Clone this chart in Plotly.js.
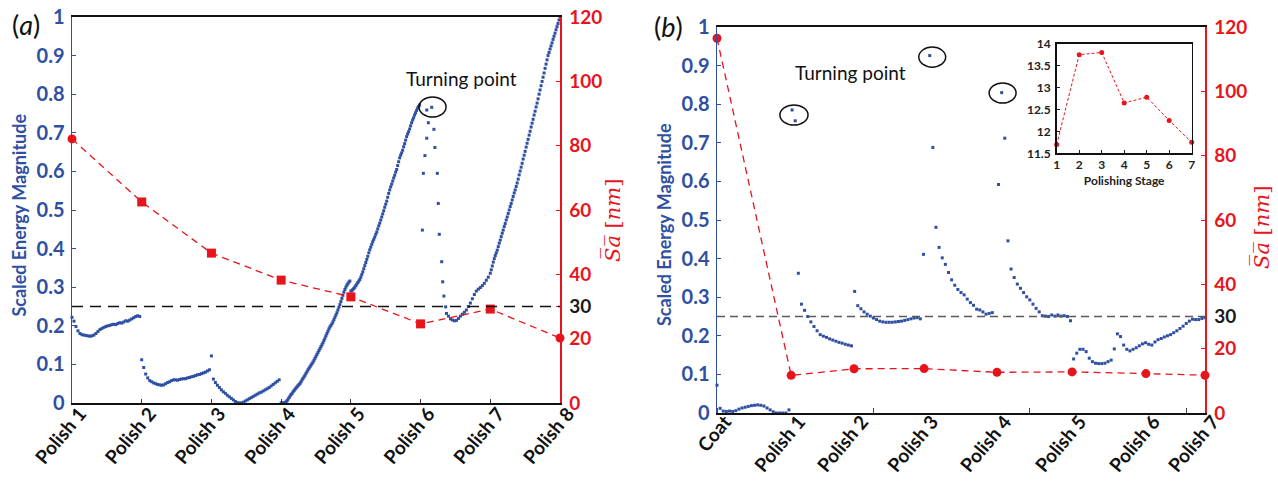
<!DOCTYPE html>
<html>
<head>
<meta charset="utf-8">
<script src="https://cdn.plot.ly/plotly-3.0.1.min.js"></script>
<style>
  html, body { margin: 0; padding: 0; background: #fff; }
  #chart { width: 1278px; height: 481px; }
</style>
</head>
<body>
<div id="chart"></div>
<script>
// ---------- Panel (a): eight polishing stages ----------
const aStageLabels = ['Polish 1', 'Polish 2', 'Polish 3', 'Polish 4', 'Polish 5', 'Polish 6', 'Polish 7', 'Polish 8'];
const aStagePos = [0, 35, 70, 105, 140, 175, 210, 245];          // sample index where each stage begins
const aSa = [82.1, 62.5, 46.6, 38.2, 33.0, 24.6, 29.2, 20.2];     // mean Sa [nm] per stage

// scaled energy, stages 1-3 (one sample per index)
const aPolish1 = [0.222, 0.212, 0.198, 0.187, 0.18, 0.177, 0.176, 0.175, 0.174, 0.173,
  0.174, 0.176, 0.18, 0.185, 0.19, 0.193, 0.196, 0.198, 0.2, 0.201,
  0.203, 0.204, 0.203, 0.206, 0.208, 0.207, 0.21, 0.213, 0.212, 0.215,
  0.218, 0.221, 0.224, 0.226, 0.224];
const aPolish2 = [0.112, 0.092, 0.075, 0.065, 0.058, 0.055, 0.052, 0.05, 0.048, 0.047,
  0.046, 0.047, 0.05, 0.053, 0.055, 0.058, 0.06, 0.06, 0.059, 0.061,
  0.062, 0.063, 0.063, 0.065, 0.066, 0.068, 0.069, 0.071, 0.073, 0.074,
  0.076, 0.078, 0.08, 0.083, 0.086];
const aPolish3 = [0.122, 0.062, 0.053, 0.046, 0.04, 0.034, 0.029, 0.025, 0.02, 0.016,
  0.012, 0.008, 0.004, 0.001, 0, 0, 0.002, 0.005, 0.008, 0.011,
  0.014, 0.017, 0.02, 0.023, 0.026, 0.028, 0.031, 0.034, 0.037, 0.04,
  0.044, 0.048, 0.052, 0.056, 0.06];
// stages 4, 5 and 7 are sampled twice as densely
const aPolish4 = [0, 0, 0, 0, 0.001, 0.003, 0.006, 0.01, 0.014, 0.018,
  0.022, 0.025, 0.029, 0.032, 0.036, 0.039, 0.042, 0.045, 0.048, 0.051,
  0.055, 0.06, 0.064, 0.068, 0.072, 0.077, 0.081, 0.086, 0.09, 0.094,
  0.098, 0.102, 0.106, 0.111, 0.116, 0.121, 0.126, 0.131, 0.136, 0.141,
  0.146, 0.151, 0.156, 0.162, 0.168, 0.174, 0.18, 0.186, 0.192, 0.197,
  0.201, 0.205, 0.21, 0.216, 0.222, 0.228, 0.234, 0.241, 0.248, 0.255,
  0.263, 0.271, 0.279, 0.287, 0.294, 0.3, 0.305, 0.309, 0.313, 0.316];
const aPolish5 = [0.29, 0.291, 0.294, 0.297, 0.3, 0.304, 0.308, 0.312, 0.316, 0.32,
  0.326, 0.333, 0.34, 0.348, 0.356, 0.364, 0.372, 0.38, 0.389, 0.397,
  0.404, 0.411, 0.418, 0.424, 0.43, 0.437, 0.443, 0.451, 0.459, 0.466,
  0.474, 0.482, 0.49, 0.498, 0.507, 0.515, 0.523, 0.533, 0.543, 0.552,
  0.56, 0.567, 0.575, 0.583, 0.59, 0.598, 0.605, 0.615, 0.625, 0.635,
  0.642, 0.648, 0.655, 0.664, 0.672, 0.681, 0.69, 0.697, 0.703, 0.71,
  0.718, 0.726, 0.733, 0.739, 0.746, 0.752, 0.758, 0.764, 0.768, 0.772];
// stage 6: the collapse after the turning point, then the recovery
const aPolish6X = [178.1, 180.6, 178.9, 181.7, 178.1, 182.2, 177.2, 176.4, 183.4, 183.9,
  175.9, 184.4, 185.6, 186.1, 186.7, 187.6,
  188, 189, 190, 191, 192, 193, 194, 195, 196, 197, 198, 199, 200, 201,
  202, 203, 204, 205, 206, 207, 208, 209];
const aPolish6Y = [0.759, 0.766, 0.726, 0.709, 0.686, 0.662, 0.641, 0.595, 0.595, 0.517,
  0.448, 0.437, 0.366, 0.314, 0.277, 0.249,
  0.232, 0.225, 0.218, 0.215, 0.213, 0.214, 0.219, 0.225, 0.23, 0.235, 0.241, 0.25, 0.259, 0.27,
  0.281, 0.29, 0.295, 0.299, 0.304, 0.31, 0.318, 0.326];
const aPolish7 = [0.336, 0.345, 0.355, 0.365, 0.374, 0.382, 0.389, 0.396, 0.405, 0.414,
  0.422, 0.431, 0.44, 0.448, 0.457, 0.465, 0.474, 0.482, 0.491, 0.5,
  0.509, 0.517, 0.526, 0.535, 0.544, 0.552, 0.561, 0.57, 0.58, 0.591,
  0.601, 0.611, 0.621, 0.632, 0.642, 0.652, 0.663, 0.673, 0.683, 0.694,
  0.704, 0.715, 0.725, 0.735, 0.746, 0.756, 0.767, 0.777, 0.788, 0.8,
  0.811, 0.822, 0.833, 0.844, 0.855, 0.867, 0.878, 0.889, 0.9, 0.908,
  0.917, 0.925, 0.933, 0.942, 0.95, 0.958, 0.967, 0.975, 0.983, 0.992,
  1.0];

// ---------- Panel (b): coating plus seven polishing stages ----------
const bStageLabels = ['Coat', 'Polish 1', 'Polish 2', 'Polish 3', 'Polish 4', 'Polish 5', 'Polish 6', 'Polish 7'];
const bStagePos = [0, 23.7, 43.8, 66.2, 89.5, 113.5, 137.1, 156];
const bSa = [116.5, 11.7, 13.75, 13.8, 12.65, 12.78, 12.25, 11.75];
const insetStage = [1, 2, 3, 4, 5, 6, 7];

const bCoat = [0.072, 0.012, 0.005, 0.004, 0.005, 0.004, 0.006, 0.01, 0.013, 0.015,
  0.017, 0.019, 0.02, 0.021, 0.02, 0.018, 0.013, 0.008, 0.003, 0, 0, 0, 0, 0.008];
const bPolish1 = [0.785, 0.757, 0.362, 0.282, 0.266, 0.25, 0.236, 0.224, 0.213, 0.203,
  0.199, 0.196, 0.192, 0.189, 0.186, 0.183, 0.181, 0.178, 0.176, 0.174];
const bPolish2 = [0.315, 0.278, 0.27, 0.262, 0.256, 0.251, 0.246, 0.242, 0.238, 0.236,
  0.235, 0.235, 0.235, 0.236, 0.237, 0.238, 0.24, 0.242, 0.244, 0.246, 0.247, 0.244];
const bPolish3 = [0.411, null, 0.926, 0.688, 0.481, 0.429, 0.402, 0.385, 0.364, 0.345,
  0.331, 0.32, 0.312, 0.306, 0.295, 0.286, 0.279, 0.269, 0.267, 0.262,
  0.256, 0.258, 0.26, null];
const bPolish4 = [0.592, 0.83, 0.712, 0.446, 0.373, 0.351, 0.334, 0.323, 0.312, 0.301,
  0.293, 0.282, 0.271, 0.262, 0.252, 0.251, 0.25, 0.254, 0.251, 0.254,
  0.251, 0.252, 0.25, 0.239];
const bPolish5 = [0.14, 0.155, 0.165, 0.165, 0.159, 0.142, 0.133, 0.129, 0.128, 0.128,
  0.129, 0.133, 0.137, 0.166, 0.205, 0.198, 0.176, 0.165, 0.161, 0.165,
  0.169, 0.174, 0.179, 0.182];
const bPolish6 = [0.178, 0.176, 0.184, 0.19, 0.193, 0.197, 0.2, 0.203, 0.208, 0.213,
  0.219, 0.225, 0.232, 0.238, 0.243, 0.242, 0.242, 0.245, 0.247];

const energyThreshold = 0.25;   // dashed reference level (= 30 nm on the Sa axis)

// ---------- styling ----------
const W = 1278, H = 481;
const BLUE = '#2f50a2', RED = '#e8141c', INK = '#111111';
const FONT = 'Lato, "Open Sans", sans-serif';
const px = v => v / W;
const py = v => 1 - v / H;

const dotStyle = { symbol: 'square', size: 3, color: BLUE };

function energy(y, x0, dx, xa, ya) {
  return { type: 'scatter', mode: 'markers', y: y, x0: x0, dx: dx, xaxis: xa, yaxis: ya,
           marker: dotStyle, cliponaxis: false, hoverinfo: 'skip' };
}

const traces = [
  energy(aPolish1.concat(aPolish2, aPolish3), aStagePos[0], 1, 'x', 'y'),
  energy(aPolish4, aStagePos[3], 0.5, 'x', 'y'),
  energy(aPolish5, aStagePos[4], 0.5, 'x', 'y'),
  { type: 'scatter', mode: 'markers', x: aPolish6X, y: aPolish6Y, xaxis: 'x', yaxis: 'y',
    marker: dotStyle, cliponaxis: false },
  energy(aPolish7, aStagePos[6], 0.5, 'x', 'y'),
  { type: 'scatter', mode: 'lines+markers', x: aStagePos, y: aSa, xaxis: 'x', yaxis: 'y2',
    line: { color: RED, width: 1.3, dash: '7px,5px' },
    marker: { color: RED, size: 9,
              symbol: ['circle', 'square', 'square', 'square', 'square', 'square', 'square', 'circle'] },
    cliponaxis: false },

  energy(bCoat.concat(bPolish1, bPolish2, bPolish3, bPolish4, bPolish5, bPolish6), 0, 1, 'x2', 'y3'),
  { type: 'scatter', mode: 'lines+markers', x: bStagePos, y: bSa, xaxis: 'x2', yaxis: 'y4',
    line: { color: RED, width: 1.3, dash: '7px,5px' },
    marker: { color: RED, size: 9, symbol: 'circle' }, cliponaxis: false },

  { type: 'scatter', mode: 'lines+markers', x: insetStage, y: bSa.slice(1), xaxis: 'x3', yaxis: 'y5',
    line: { color: RED, width: 1, dash: '3px,2px' },
    marker: { color: RED, size: 5, symbol: 'circle' }, cliponaxis: false }
];

const leftAxis = (domain, anchor) => ({
  domain: domain, anchor: anchor, range: [0, 1], tick0: 0, dtick: 0.1,
  tickfont: { family: FONT, size: 20, color: BLUE, weight: 'bold' },
  ticks: 'inside', ticklen: 4, tickcolor: BLUE, tickwidth: 1,
  showline: true, linecolor: BLUE, linewidth: 1.5,
  showgrid: false, zeroline: false, automargin: false, ticklabelstandoff: 2
});
const saTicks = [0, 20, 30, 40, 60, 80, 100, 120];
const saText = saTicks.map(v => v === 30 ? '<span style="color:#1a1a1a">30</span>' : String(v));
const rightAxis = (over, anchor) => ({
  overlaying: over, anchor: anchor, side: 'right', range: [0, 120],
  tickmode: 'array', tickvals: saTicks, ticktext: saText,
  tickfont: { family: FONT, size: 19, color: RED, weight: 'bold' },
  ticks: 'inside', ticklen: 4, tickcolor: RED,
  showline: true, linecolor: RED, linewidth: 1.5,
  showgrid: false, zeroline: false, automargin: false, ticklabelstandoff: 4
});
const stageAxis = (domain, anchor, range, vals, text) => ({
  domain: domain, anchor: anchor, range: range,
  tickmode: 'array', tickvals: vals, ticktext: text, tickangle: -50,
  tickfont: { family: FONT, size: 19, color: INK, weight: 'bold' },
  ticklabelstandoff: -10, ticklabelshift: 8,
  showline: true, mirror: true, linecolor: INK, linewidth: 2.2,
  showgrid: false, zeroline: false, automargin: false
});

const xa = stageAxis([px(72), px(560)], 'y', [0, 245], aStagePos, aStageLabels);
xa.ticks = 'inside'; xa.ticklen = 4; xa.tickcolor = '#333';
const xb = stageAxis([px(717), px(1205)], 'y3', [0, 156], bStagePos, bStageLabels);
xb.ticks = '';
xb.ticklabelstandoff = -12;
xb.minor = { ticks: 'inside', tick0: 0, dtick: 50, ticklen: 5, tickcolor: '#444', tickwidth: 1 };

const insetFont = { family: FONT, size: 12, color: '#222', weight: 'bold' };

const annoBase = { xref: 'paper', yref: 'paper', showarrow: false, xanchor: 'center', yanchor: 'middle' };

const layout = {
  width: W, height: H,
  margin: { l: 0, r: 0, t: 0, b: 0 },
  paper_bgcolor: '#fff', plot_bgcolor: 'rgba(0,0,0,0)',
  showlegend: false,
  font: { family: FONT },
  xaxis: xa,
  yaxis: leftAxis([py(403), py(17)], 'x'),
  yaxis2: rightAxis('y', 'x'),
  xaxis2: xb,
  yaxis3: leftAxis([py(413), py(27)], 'x2'),
  yaxis4: rightAxis('y3', 'x2'),
  xaxis3: {
    domain: [px(1056.7), px(1191.7)], anchor: 'y5', range: [1, 7], dtick: 1,
    tickfont: insetFont, ticks: 'inside', ticklen: 3, tickcolor: '#222',
    showline: true, mirror: true, linecolor: INK, linewidth: 1.6,
    showgrid: false, zeroline: false, automargin: false,
    title: { text: 'Polishing Stage', font: insetFont, standoff: 5 }
  },
  yaxis5: {
    domain: [py(153.3), py(43.7)], anchor: 'x3', range: [11.5, 14], dtick: 0.5,
    tickfont: insetFont, ticks: 'inside', ticklen: 3, tickcolor: '#222',
    showline: true, mirror: true, linecolor: INK, linewidth: 1.6,
    showgrid: false, zeroline: false, automargin: false, ticklabelstandoff: 2
  },
  shapes: [
    { type: 'line', xref: 'x', yref: 'y', x0: aStagePos[0], x1: aStagePos[7],
      y0: energyThreshold, y1: energyThreshold, line: { color: INK, width: 1.5, dash: '11px,7px' } },
    { type: 'line', xref: 'x2', yref: 'y3', x0: bStagePos[0], x1: bStagePos[7],
      y0: energyThreshold, y1: energyThreshold, line: { color: '#5a5a5a', width: 1.3, dash: '8px,5px' } },
    { type: 'circle', xref: 'x', yref: 'y', x0: 174.2, x1: 187.8, y0: 0.741, y1: 0.793,
      line: { color: INK, width: 1.5 } },
    { type: 'circle', xref: 'x2', yref: 'y3', x0: 20.1, x1: 29.1, y0: 0.746, y1: 0.798,
      line: { color: INK, width: 1.5 } },
    { type: 'circle', xref: 'x2', yref: 'y3', x0: 64.5, x1: 73.1, y0: 0.896, y1: 0.948,
      line: { color: INK, width: 1.5 } },
    { type: 'circle', xref: 'x2', yref: 'y3', x0: 87.0, x1: 95.6, y0: 0.803, y1: 0.855,
      line: { color: INK, width: 1.5 } }
  ],
  annotations: [
    Object.assign({ text: '(<i>a</i>)', x: px(26), y: py(24),
      font: { family: FONT, size: 27, color: INK } }, annoBase),
    Object.assign({ text: '(<i>b</i>)', x: px(668), y: py(26),
      font: { family: FONT, size: 27, color: INK } }, annoBase),
    Object.assign({ text: 'Turning point', x: px(461), y: py(78),
      font: { family: FONT, size: 19, color: INK } }, annoBase),
    Object.assign({ text: 'Turning point', x: px(850), y: py(73),
      font: { family: FONT, size: 19, color: INK } }, annoBase),
    Object.assign({ text: '<b>Scaled Energy Magnitude</b>', x: px(18.5), y: py(215), textangle: -90,
      font: { family: FONT, size: 18, color: BLUE } }, annoBase),
    Object.assign({ text: '<b>Scaled Energy Magnitude</b>', x: px(664), y: py(224), textangle: -90,
      font: { family: FONT, size: 18, color: BLUE } }, annoBase),
    Object.assign({ text: '<i>S\u0305a\u0305</i> [<i>nm</i>]', x: px(613), y: py(221), textangle: -90,
      font: { family: '"DejaVu Serif", serif', size: 21, color: RED } }, annoBase),
    Object.assign({ text: '<i>S\u0305a\u0305</i> [<i>nm</i>]', x: px(1261), y: py(228), textangle: -90,
      font: { family: '"DejaVu Serif", serif', size: 21, color: RED } }, annoBase)
  ]
};

Plotly.newPlot('chart', traces, layout, { displayModeBar: false, staticPlot: true });
</script>
</body>
</html>
